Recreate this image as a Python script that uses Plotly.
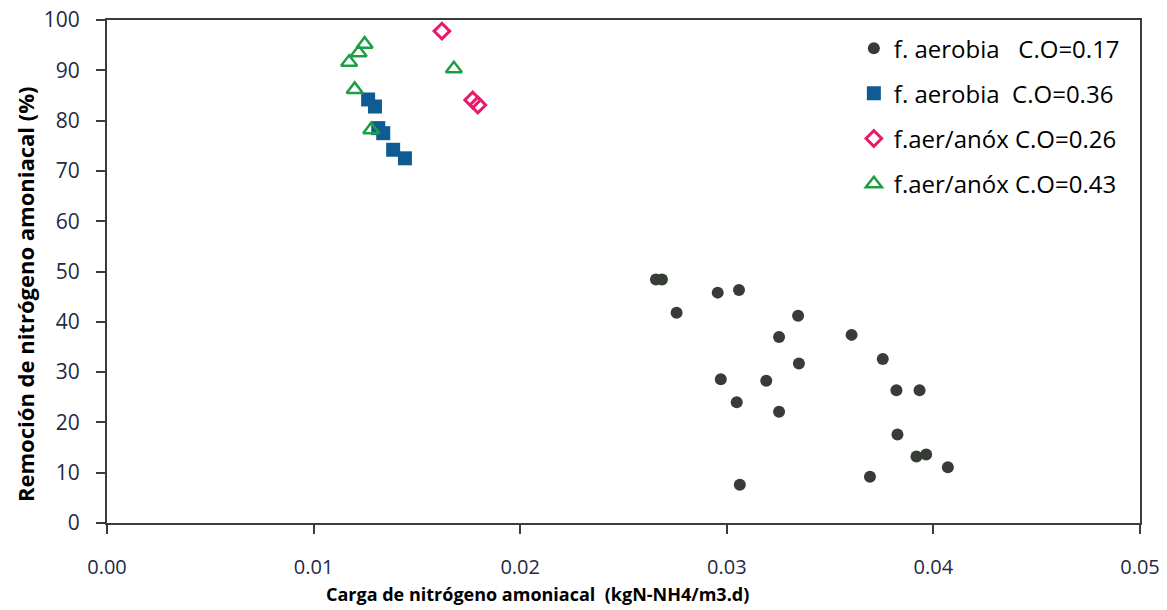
import plotly.graph_objects as go

# Ammonia nitrogen load (kgN-NH4/m3.d) vs. removal (%) by reactor mode
aer017_x = [0.02657, 0.02686, 0.02956, 0.03059, 0.02757, 0.03345, 0.03253, 0.03604,
            0.03755, 0.03349, 0.02971, 0.03191, 0.03821, 0.03933, 0.03048, 0.03253,
            0.03826, 0.03918, 0.03965, 0.03693, 0.03063, 0.04070]
aer017_y = [48.4, 48.4, 45.8, 46.3, 41.8, 41.2, 37.0, 37.4,
            32.6, 31.7, 28.6, 28.3, 26.4, 26.4, 24.0, 22.1,
            17.6, 13.2, 13.6, 9.2, 7.6, 11.1]

aer036_x = [0.01264, 0.01297, 0.01313, 0.01337, 0.01385, 0.01442]
aer036_y = [84.2, 82.8, 78.5, 77.5, 74.2, 72.5]

anox026_x = [0.01621, 0.01770, 0.01795]
anox026_y = [97.8, 84.1, 83.1]

anox043_x = [0.01247, 0.01218, 0.01172, 0.01199, 0.01279, 0.01679]
anox043_y = [95.2, 93.5, 91.6, 86.2, 78.2, 90.3]

NB = "\u00a0"
names = [
    f"f.{NB}aerobia{NB*3}C.O=0.17",
    f"f.{NB}aerobia{NB*2}C.O=0.36",
    f"f.aer/anóx{NB}C.O=0.26",
    f"f.aer/anóx{NB}C.O=0.43",
]

x_ticks = [0.0, 0.01, 0.02, 0.03, 0.04, 0.05]
x_tick_text = ["0.00", "0.01", "0.02", "0.03", "0.04", "0.05"]
y_ticks = [0, 10, 20, 30, 40, 50, 60, 70, 80, 90, 100]

x_title = "<b>Carga de nitrógeno amoniacal  (kgN-NH4/m3.d)</b>"
y_title = "<b>Remoción de nitrógeno amoniacal (%)</b>"

FONT = "Open Sans"
AXIS_COLOR = "#3c3c3c"
TICK_COLOR = "#1f2a44"
W, H = 1167, 610
M = dict(l=107, r=27, t=20, b=87)

fig = go.Figure()
fig.add_trace(go.Scatter(
    x=aer017_x, y=aer017_y, mode="markers", name=names[0], legendgroup="g1",
    marker=dict(symbol="circle", size=12, color="#373d36", line=dict(width=0)),
))
fig.add_trace(go.Scatter(
    x=aer036_x, y=aer036_y, mode="markers", name=names[1], legendgroup="g2",
    marker=dict(symbol="square", size=14, color="#0f5b94", line=dict(width=0)),
))
fig.add_trace(go.Scatter(
    x=anox026_x, y=anox026_y, mode="markers", name=names[2], legendgroup="g3",
    marker=dict(symbol="diamond-open", size=12, color="#e8196b", line=dict(width=3)),
))
fig.add_trace(go.Scatter(
    x=anox043_x, y=anox043_y, mode="markers", name=names[3], legendgroup="g4",
    marker=dict(symbol="triangle-up-open", size=14, color="#1e9e44", line=dict(width=2.5)),
))

# axis titles placed in paper coordinates (pixel offsets converted to fractions)
pw = W - M["l"] - M["r"]
ph = H - M["t"] - M["b"]
fig.add_annotation(
    text=x_title, xref="paper", yref="paper",
    x=(537 - M["l"]) / pw, y=-(594 - (H - M["b"])) / ph,
    xanchor="center", yanchor="middle", showarrow=False,
    font=dict(family=FONT, size=18, color="black"),
)
fig.add_annotation(
    text=y_title, xref="paper", yref="paper",
    x=-(M["l"] - 25) / pw, y=((H - M["b"]) - 294) / ph,
    xanchor="center", yanchor="middle", showarrow=False, textangle=-90,
    font=dict(family=FONT, size=22, color="black"),
)

fig.update_layout(
    width=W, height=H,
    margin=M,
    paper_bgcolor="white", plot_bgcolor="white",
    font=dict(family=FONT, color="black"),
    showlegend=True,
    legend=dict(
        x=0.723, y=0.988, xanchor="left", yanchor="top",
        bgcolor="rgba(0,0,0,0)", borderwidth=0,
        font=dict(family=FONT, size=24, color="black"),
        traceorder="grouped", tracegroupgap=11,
        itemwidth=30,
    ),
    xaxis=dict(
        range=[0, 0.05], tickvals=x_ticks, ticktext=x_tick_text,
        automargin=False,
        showgrid=False, zeroline=False,
        showline=True, linecolor=AXIS_COLOR, linewidth=2, mirror=True,
        ticks="outside", ticklen=9, tickwidth=2, tickcolor=AXIS_COLOR,
        ticklabelstandoff=16,
        tickfont=dict(family=FONT, size=20, color=TICK_COLOR),
    ),
    yaxis=dict(
        range=[0, 100], tickvals=y_ticks,
        automargin=False,
        showgrid=False, zeroline=False,
        showline=True, linecolor=AXIS_COLOR, linewidth=2, mirror=True,
        ticks="outside", ticklen=9, tickwidth=2, tickcolor=AXIS_COLOR,
        ticklabelstandoff=12,
        tickfont=dict(family=FONT, size=21, color=TICK_COLOR),
    ),
)

fig.write_html("out.html")
